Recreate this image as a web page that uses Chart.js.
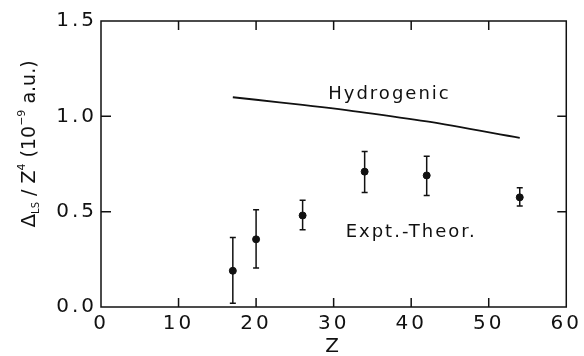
<!DOCTYPE html>
<html>
<head>
<meta charset="utf-8">
<script src="https://cdn.jsdelivr.net/npm/chart.js"></script>
<style>
html, body { margin: 0; padding: 0; background: #fff; }
</style>
</head>
<body>
<canvas id="chart" width="584" height="356"></canvas>
<script>
// measured points (Z, Delta_LS / Z^4 in 1e-9 a.u.)
const zValues = [17, 20, 26, 34, 42, 54];
const exptTheor = [0.19, 0.355, 0.48, 0.71, 0.69, 0.575];
const errLow = [0.02, 0.205, 0.405, 0.60, 0.585, 0.53];
const errHigh = [0.365, 0.51, 0.56, 0.815, 0.79, 0.625];

// hydrogenic curve
const hydroZ = [17, 20, 26, 34, 42, 54];
const hydrogenic = [1.10, 1.087, 1.06, 1.02, 0.973, 0.887];

const xTicks = [0, 10, 20, 30, 40, 50, 60];
const yTicks = [0, 0.5, 1.0, 1.5];

const FONT = 'DejaVu Sans';
const INK = '#111';

const boxPlugin = {
    id: 'box',
    beforeDraw: function(chart) {
        chart.ctx.letterSpacing = '3px';
    },
    afterDatasetsDraw: function(chart) {
        const ctx = chart.ctx;
        const x = chart.scales.x;
        const y = chart.scales.y;
        const a = chart.chartArea;
        ctx.save();
        ctx.strokeStyle = INK;
        ctx.lineWidth = 1.5;

        // error bars
        for (let i = 0; i < zValues.length; i++) {
            const px = x.getPixelForValue(zValues[i]);
            const lo = y.getPixelForValue(errLow[i]);
            const hi = y.getPixelForValue(errHigh[i]);
            ctx.beginPath();
            ctx.moveTo(px, lo);
            ctx.lineTo(px, hi);
            ctx.moveTo(px - 3, lo);
            ctx.lineTo(px + 3, lo);
            ctx.moveTo(px - 3, hi);
            ctx.lineTo(px + 3, hi);
            ctx.stroke();
        }

        // frame and inward ticks
        ctx.strokeRect(a.left, a.top, a.right - a.left, a.bottom - a.top);
        ctx.beginPath();
        xTicks.slice(1, -1).forEach(function(v) {
            const px = x.getPixelForValue(v);
            ctx.moveTo(px, a.bottom);
            ctx.lineTo(px, a.bottom - 9);
            ctx.moveTo(px, a.top);
            ctx.lineTo(px, a.top + 9);
        });
        yTicks.slice(1, -1).forEach(function(v) {
            const py = y.getPixelForValue(v);
            ctx.moveTo(a.left, py);
            ctx.lineTo(a.left + 10, py);
            ctx.moveTo(a.right, py);
            ctx.lineTo(a.right - 9, py);
        });
        ctx.stroke();

        // curve labels
        ctx.fillStyle = INK;
        ctx.font = '18px "' + FONT + '"';
        ctx.letterSpacing = '2px';
        ctx.textAlign = 'center';
        ctx.textBaseline = 'middle';
        ctx.fillText('Hydrogenic', x.getPixelForValue(37.2), y.getPixelForValue(1.115));
        ctx.fillText('Expt.-Theor.', x.getPixelForValue(40), y.getPixelForValue(0.39));

        // y axis title, rotated, with sub/superscripts
        const parts = [
            ['\u0394', 20, 0],
            ['LS', 10, 4],
            [' / ', 19, 0],
            ['Z', 19, 0],
            ['4', 11, -10],
            [' (10', 19, 0],
            ['\u22129', 11, -10],
            [' a.u.)', 19, 0]
        ];
        ctx.letterSpacing = '0px';
        let total = 0;
        parts.forEach(function(p) {
            ctx.font = p[1] + 'px "' + FONT + '"';
            total += ctx.measureText(p[0]).width;
        });
        ctx.translate(35, 144);
        ctx.rotate(-Math.PI / 2);
        ctx.textAlign = 'left';
        ctx.textBaseline = 'alphabetic';
        let pos = -total / 2;
        parts.forEach(function(p) {
            ctx.font = p[1] + 'px "' + FONT + '"';
            ctx.fillText(p[0], pos, p[2]);
            pos += ctx.measureText(p[0]).width;
        });
        ctx.restore();
    }
};

new Chart(document.getElementById('chart'), {
    data: {
        datasets: [
            {
                type: 'line',
                label: 'Hydrogenic',
                data: hydroZ.map(function(z, i) { return { x: z, y: hydrogenic[i] }; }),
                borderColor: INK,
                borderWidth: 1.8,
                pointRadius: 0,
                tension: 0.3
            },
            {
                type: 'scatter',
                label: 'Expt.-Theor.',
                data: zValues.map(function(z, i) { return { x: z, y: exptTheor[i] }; }),
                backgroundColor: INK,
                borderColor: INK,
                pointRadius: 3.5
            }
        ]
    },
    options: {
        responsive: false,
        animation: false,
        devicePixelRatio: 1,
        layout: { padding: { top: 21, right: 16, left: 0, bottom: 0 } },
        plugins: {
            legend: { display: false },
            tooltip: { enabled: false }
        },
        scales: {
            x: {
                type: 'linear',
                min: 0,
                max: 60,
                afterBuildTicks: function(s) { s.ticks = xTicks.map(function(v) { return { value: v }; }); },
                afterFit: function(s) { s.height = 49; },
                grid: { display: false, drawTicks: false },
                border: { display: false },
                ticks: {
                    color: INK,
                    padding: 5,
                    maxRotation: 0,
                    font: { family: FONT, size: 20 }
                },
                title: {
                    display: true,
                    text: 'Z',
                    color: INK,
                    padding: { top: 0, bottom: 0 },
                    font: { family: FONT, size: 20, lineHeight: 0.9 }
                }
            },
            y: {
                type: 'linear',
                min: 0,
                max: 1.5,
                afterBuildTicks: function(s) { s.ticks = yTicks.map(function(v) { return { value: v }; }); },
                afterFit: function(s) { s.width = 101; },
                grid: { display: false, drawTicks: false },
                border: { display: false },
                ticks: {
                    color: INK,
                    padding: 4,
                    font: { family: FONT, size: 20 },
                    callback: function(v) { return Number(v).toFixed(1); }
                }
            }
        }
    },
    plugins: [boxPlugin]
});
</script>
</body>
</html>
